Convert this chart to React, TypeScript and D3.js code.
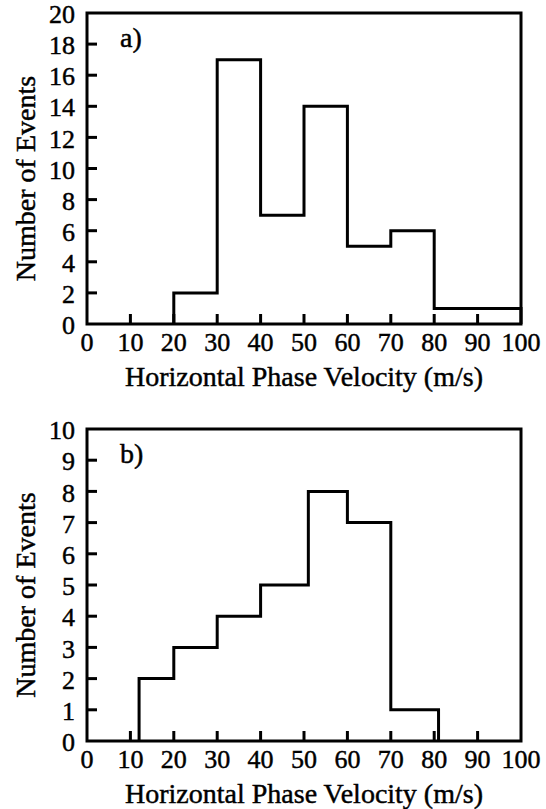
import React from "react";
import * as d3 from "d3";

// Panel a data
const edgesA = [20, 30, 40, 50, 60, 70, 80, 90, 100];
const countsA = [2, 17, 7, 14, 5, 6, 1, 1];
const yTicksA = [0, 2, 4, 6, 8, 10, 12, 14, 16, 18, 20];

// Panel b data
const edgesB = [12, 20, 30, 40, 51, 60, 70, 81];
const countsB = [2, 3, 4, 5, 8, 7, 1];
const yTicksB = [0, 1, 2, 3, 4, 5, 6, 7, 8, 9, 10];

const xTicks = [0, 10, 20, 30, 40, 50, 60, 70, 80, 90, 100];
const labelA = "a)";
const labelB = "b)";
const xTitle = "Horizontal Phase Velocity (m/s)";
const yTitle = "Number of Events";

const FONT = "Liberation Serif, DejaVu Serif, serif";

type PanelProps = {
  top: number;
  bottom: number;
  edges: number[];
  counts: number[];
  yTicks: number[];
  yMax: number;
  label: string;
};

function Panel({ top, bottom, edges, counts, yTicks, yMax, label }: PanelProps) {
  const left = 87;
  const right = 521;
  const x = d3.scaleLinear().domain([0, 100]).range([left, right]);
  const y = d3.scaleLinear().domain([0, yMax]).range([bottom, top]);

  const pts: [number, number][] = [];
  pts.push([x(edges[0]), y(0)]);
  counts.forEach((c, i) => {
    pts.push([x(edges[i]), y(c)]);
    pts.push([x(edges[i + 1]), y(c)]);
  });
  pts.push([x(edges[edges.length - 1]), y(0)]);
  const line = d3.line<[number, number]>().x((d) => d[0]).y((d) => d[1]);

  const tickLen = 10;
  const sw = 3;
  const textStyle = { fontFamily: FONT };
  const ts = { fill: "#000", stroke: "#000", strokeWidth: 0.45 };
  return (
    <g style={textStyle}>
      {yTicks.map((t) => (
        <g key={"y" + t}>
          {t > 0 && t < yMax && (
            <line x1={left} x2={left + tickLen} y1={y(t)} y2={y(t)} stroke="#000" strokeWidth={sw} />
          )}
          <text x={75} y={y(t) + 1} dy="0.35em" textAnchor="end" fontSize={26} {...ts} style={textStyle}>
            {t}
          </text>
        </g>
      ))}
      {xTicks.map((t) => (
        <g key={"x" + t}>
          {t > 0 && t < 100 && (
            <line x1={x(t)} x2={x(t)} y1={bottom} y2={bottom - tickLen} stroke="#000" strokeWidth={sw} />
          )}
          <text x={x(t)} y={bottom + 27} textAnchor="middle" fontSize={26} {...ts} style={textStyle}>
            {t}
          </text>
        </g>
      ))}
      <path d={line(pts) || ""} fill="none" stroke="#000" strokeWidth={sw} strokeLinejoin="miter" />
      <rect x={left} y={top} width={right - left} height={bottom - top} fill="none" stroke="#000" strokeWidth={3} />
      <text x={120} y={top + 34} fontSize={28} {...ts} style={textStyle}>
        {label}
      </text>
      <text x={(left + right) / 2} y={bottom + 62} textAnchor="middle" fontSize={28} {...ts} style={textStyle}>
        {xTitle}
      </text>
      <text
        transform={`translate(35,${(top + bottom) / 2 + 10}) rotate(-90)`}
        textAnchor="middle"
        fontSize={28}
        {...ts}
        style={textStyle}
      >
        {yTitle}
      </text>
    </g>
  );
}

export default function App() {
  return (
    <svg width={546} height={809} style={{ position: "absolute", left: 0, top: 0, background: "#fff" }}>
      <rect width={546} height={809} fill="#fff" />
      <Panel top={13} bottom={324} edges={edgesA} counts={countsA} yTicks={yTicksA} yMax={20} label={labelA} />
      <Panel top={429} bottom={741} edges={edgesB} counts={countsB} yTicks={yTicksB} yMax={10} label={labelB} />
    </svg>
  );
}
